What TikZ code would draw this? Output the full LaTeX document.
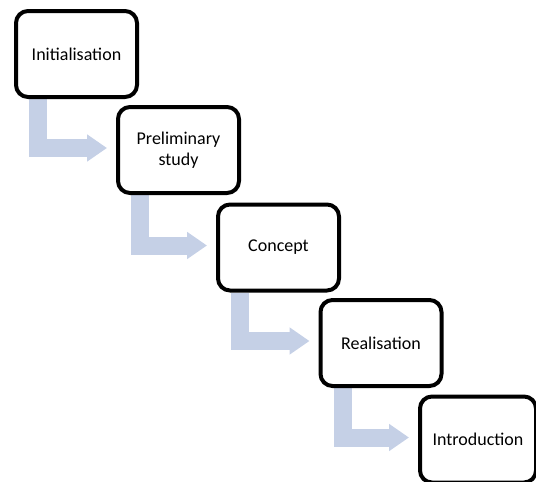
\documentclass[tikz,border=0pt]{standalone}
\usepackage{fontspec}
\setmainfont{Carlito}
\usetikzlibrary{arrows.meta,backgrounds}
\definecolor{flowblue}{RGB}{197,208,230}
\begin{document}
\begin{tikzpicture}[x=1pt,y=-1pt,
  stepbox/.style={draw=black, fill=white, line width=4pt, rounded corners=12pt,
    minimum width=121pt, minimum height=86pt, inner sep=0pt, align=center,
    font=\fontsize{18}{21}\selectfont},
  flow/.style={draw=flowblue, line width=18pt, line join=miter, line cap=butt,
    -{Triangle[length=20pt,width=26pt]}, shorten >=9pt}]
\useasboundingbox (0,0) rectangle (536,482);
\node[stepbox] (b1) at (76.5,54) {Initialisation};
\node[stepbox] (b2) at (178.5,150) {Preliminary\\study};
\node[stepbox] (b3) at (278.5,247.5) {Concept};
\node[stepbox] (b4) at (381,343) {Realisation};
\node[stepbox, minimum width=116pt] (b5) at (478,439.5) {Introduction};
\begin{scope}[on background layer]
\draw[flow] ([xshift=24pt]b1.south west) |- ([yshift=2pt]b2.west);
\draw[flow] ([xshift=24pt]b2.south west) |- ([yshift=2pt]b3.west);
\draw[flow] ([xshift=24pt]b3.south west) |- ([yshift=2pt]b4.west);
\draw[flow] ([xshift=24pt]b4.south west) |- ([yshift=2pt]b5.west);
\end{scope}
\end{tikzpicture}
\end{document}
